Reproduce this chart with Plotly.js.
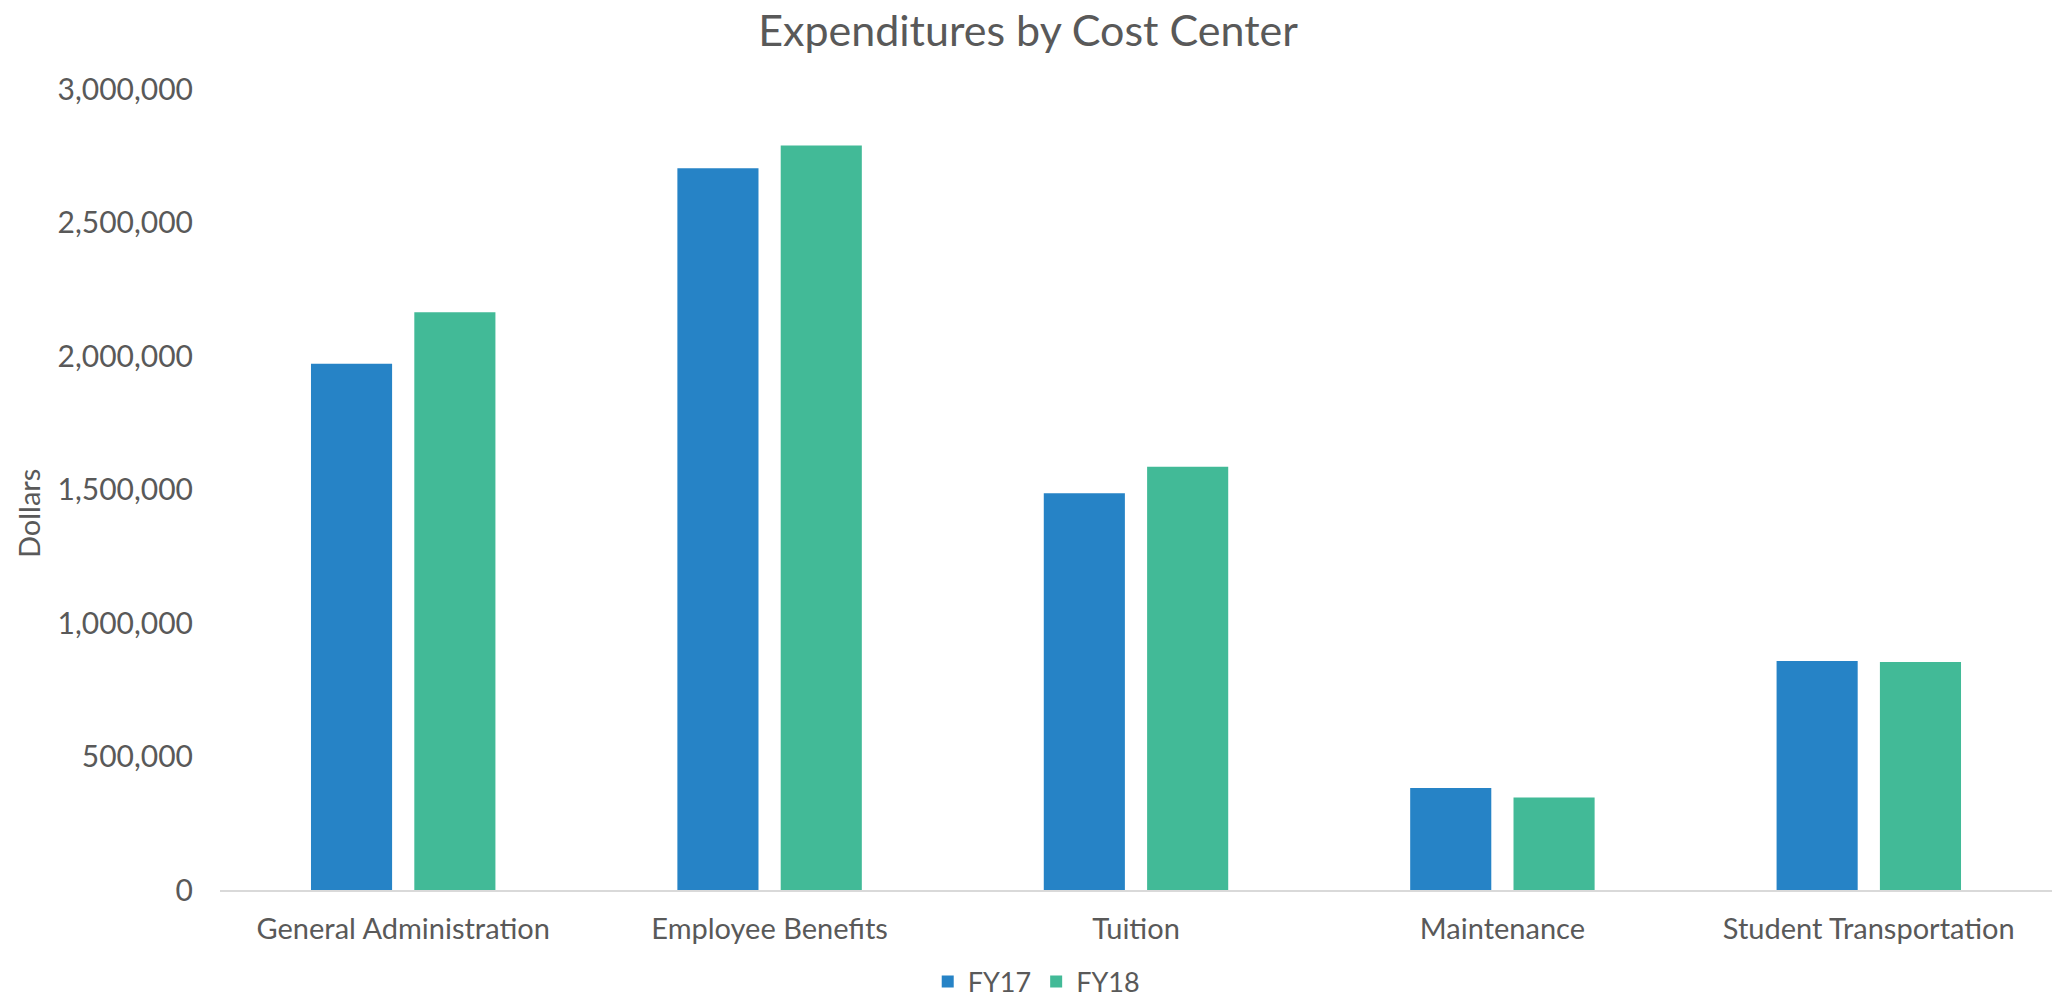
<!DOCTYPE html>
<html>
<head>
<meta charset="utf-8">
<script src="https://cdn.plot.ly/plotly-3.0.1.min.js"></script>
<style>
  html, body { margin: 0; padding: 0; background: #ffffff; }
  #chart { width: 2056px; height: 999px; }
</style>
</head>
<body>
<div id="chart"></div>
<script>
const categories = ["General Administration", "Employee Benefits", "Tuition", "Maintenance", "Student Transportation"];
const fy17 = [1971000, 2703000, 1486000, 382000, 858000];
const fy18 = [2164000, 2788000, 1585000, 346000, 854000];
const seriesNames = ["FY17", "FY18"];
const yTicks = [0, 500000, 1000000, 1500000, 2000000, 2500000, 3000000];
const yTitle = "Dollars";

const FONT = "Lato, 'Noto Sans', sans-serif";
const TEXT = "#595959";

const data = [
  { type: "bar", name: seriesNames[0], x: categories, y: fy17, marker: { color: "#2683C6" } },
  { type: "bar", name: seriesNames[1], x: categories, y: fy18, marker: { color: "#42BA97" } }
];

const layout = {
  width: 2056, height: 999,
  paper_bgcolor: "#ffffff", plot_bgcolor: "#ffffff",
  font: { family: FONT, color: TEXT, size: 29 },
  margin: { l: 220, r: 4, t: 89, b: 109 },
  title: { text: "Expenditures by Cost Center", font: { family: FONT, size: 43, color: TEXT }, x: 0.5, xref: "container", y: 0.969, yref: "container", yanchor: "middle" },
  barmode: "group",
  bargap: 0.436,
  bargroupgap: 0.215,
  showlegend: true,
  legend: { orientation: "h", xref: "container", x: 0.504, xanchor: "center", yref: "container", y: 0.017, yanchor: "middle", font: { size: 27, color: TEXT }, itemwidth: 30, traceorder: "normal" },
  xaxis: {
    type: "category",
    showline: true, linecolor: "#D9D9D9", linewidth: 2,
    showgrid: false, zeroline: false,
    ticks: "", ticklabelstandoff: 12,
    tickfont: { size: 29, color: TEXT }
  },
  yaxis: {
    range: [0, 3000000], tickvals: yTicks, tickformat: ",d",
    showline: false, showgrid: false, zeroline: false,
    ticks: "", ticklabelstandoff: 26,
    tickfont: { size: 30, color: TEXT }
  },
  annotations: [
    { text: yTitle, xref: "paper", yref: "paper", x: -0.1045, y: 0.47, xanchor: "center", yanchor: "middle", textangle: -90, showarrow: false, font: { size: 29, color: TEXT } }
  ]
};

Plotly.newPlot("chart", data, layout, { displayModeBar: false, staticPlot: true });
</script>
</body>
</html>
